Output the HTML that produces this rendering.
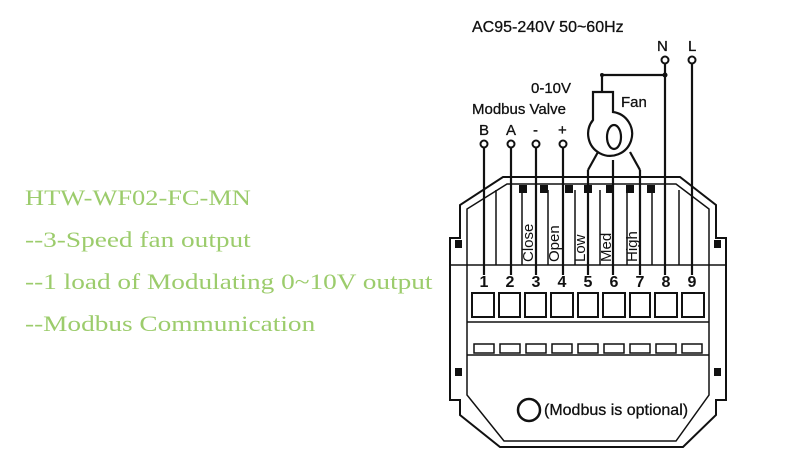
<!DOCTYPE html>
<html><head><meta charset="utf-8"><style>
body{margin:0;background:#fff;width:800px;height:476px;overflow:hidden}
.t{position:absolute;left:25px;font-family:"Liberation Serif",serif;font-size:22px;color:#9ccc6c;white-space:nowrap;transform-origin:0 0;transform:scaleX(1.24)}
</style></head><body>
<div class="t" style="top:185px;transform:scaleX(1.2)">HTW-WF02-FC-MN</div>
<div class="t" style="top:227px">--3-Speed fan output</div>
<div class="t" style="top:269px">--1 load of Modulating 0~10V output</div>
<div class="t" style="top:311px">--Modbus Communication</div>
<svg style="position:absolute;left:0;top:0" width="800" height="476" font-family="Liberation Sans,sans-serif">
<g fill="none" stroke="#111" stroke-width="2">
<path d="M503,177 L680,177 L716,205 L716,238 L726,238 L726,400 L716,400 L716,415 L683,447 L500,447 L460,415 L460,400 L450,400 L450,238 L460,238 L460,205 Z"/>
<path d="M507,184 L676,184 L709,209 L709,395 L676,441 L504,441 L467,395 L467,209 Z" stroke-width="1.5"/>
<line x1="467" y1="265" x2="709" y2="265" stroke-width="1.5"/>
<line x1="450" y1="265" x2="467" y2="265" stroke-width="1.5"/>
<line x1="709" y1="265" x2="726" y2="265" stroke-width="1.5"/>
<line x1="467" y1="355" x2="709" y2="355" stroke-width="1.5"/>
<line x1="467" y1="322" x2="709" y2="322" stroke-width="1.5"/>
<g stroke-width="1.5">
<line x1="496" y1="190" x2="496" y2="265"/><line x1="522" y1="190" x2="522" y2="265"/><line x1="548" y1="190" x2="548" y2="265"/><line x1="575" y1="190" x2="575" y2="265"/><line x1="600" y1="190" x2="600" y2="265"/><line x1="627" y1="190" x2="627" y2="265"/><line x1="652" y1="190" x2="652" y2="265"/><line x1="679" y1="190" x2="679" y2="265"/>
</g>
<g stroke-width="2">
<rect x="472" y="293" width="22" height="24"/><rect x="499" y="293" width="21" height="24"/><rect x="525" y="293" width="21" height="24"/><rect x="551" y="293" width="22" height="24"/><rect x="578" y="293" width="20" height="24"/><rect x="603" y="293" width="22" height="24"/><rect x="630" y="293" width="20" height="24"/><rect x="655" y="293" width="22" height="24"/><rect x="682" y="293" width="22" height="24"/>
</g>
<g stroke-width="1.5">
<rect x="474" y="344" width="20" height="9"/><rect x="500" y="344" width="20" height="9"/><rect x="526" y="344" width="20" height="9"/><rect x="552" y="344" width="20" height="9"/><rect x="578" y="344" width="20" height="9"/><rect x="604" y="344" width="20" height="9"/><rect x="630" y="344" width="20" height="9"/><rect x="656" y="344" width="20" height="9"/><rect x="682" y="344" width="20" height="9"/>
</g>
<circle cx="529" cy="410" r="11" stroke-width="2.5"/>
<g stroke-width="2.2">
<line x1="484" y1="147" x2="484" y2="275"/><line x1="511" y1="147" x2="511" y2="275"/><line x1="536" y1="147" x2="536" y2="275"/><line x1="563" y1="147" x2="563" y2="275"/>
<line x1="665" y1="62" x2="665" y2="275"/><line x1="692" y1="62" x2="692" y2="275"/>
<line x1="588" y1="275" x2="588" y2="170"/><line x1="613" y1="275" x2="613" y2="160"/><line x1="640" y1="275" x2="640" y2="170"/>
<path d="M588,170 L598,152"/><path d="M640,170 L630,152"/>
<path d="M602,92 L602,75 L665,75"/>
<path d="M593,92 L613,92 L613,112 A22,22 0 1 1 593,120 Z"/>
<ellipse cx="614" cy="137" rx="7" ry="12"/>
</g>
<g fill="#fff" stroke-width="2"><circle cx="484" cy="144" r="3.5"/><circle cx="511" cy="144" r="3.5"/><circle cx="536" cy="144" r="3.5"/><circle cx="563" cy="144" r="3.5"/><circle cx="665" cy="60" r="3.5"/><circle cx="692" cy="60" r="3.5"/></g>
</g>
<g fill="#111">
<circle cx="665" cy="75" r="2.5"/><circle cx="602" cy="75" r="2"/>
<rect x="519" y="185" width="8" height="8"/><rect x="540" y="185" width="8" height="8"/><rect x="565" y="185" width="8" height="8"/><rect x="584" y="185" width="8" height="8"/><rect x="606" y="185" width="8" height="8"/><rect x="626" y="185" width="8" height="8"/><rect x="647" y="185" width="8" height="8"/>
<rect x="455" y="240" width="7" height="8"/><rect x="714" y="240" width="7" height="8"/><rect x="455" y="368" width="7" height="8"/><rect x="714" y="368" width="7" height="8"/>
</g>
<g font-size="15" fill="#111" stroke="#111" stroke-width="0.3">
<text x="472" y="32" font-size="16">AC95-240V  50~60Hz</text>
<text x="657" y="51">N</text><text x="688" y="51">L</text>
<text x="531" y="93">0-10V</text>
<text x="472" y="114">Modbus Valve</text>
<text x="621" y="107">Fan</text>
<text x="479" y="135">B</text><text x="506" y="135">A</text><text x="533" y="135">-</text><text x="558" y="135">+</text>
<text x="544" y="415" font-size="16">(Modbus is optional)</text>
</g>
<g font-size="15" fill="#111">
<text transform="translate(533,262) rotate(-90)">Close</text>
<text transform="translate(559,262) rotate(-90)">Open</text>
<text transform="translate(585,262) rotate(-90)">Low</text>
<text transform="translate(611,262) rotate(-90)">Med</text>
<text transform="translate(637,262) rotate(-90)">High</text>
</g>
<g font-size="16" font-weight="bold" fill="#111" text-anchor="middle">
<text x="484" y="287">1</text><text x="510" y="287">2</text><text x="536" y="287">3</text><text x="562" y="287">4</text><text x="588" y="287">5</text><text x="614" y="287">6</text><text x="640" y="287">7</text><text x="666" y="287">8</text><text x="692" y="287">9</text>
</g>
</svg>
</body></html>
